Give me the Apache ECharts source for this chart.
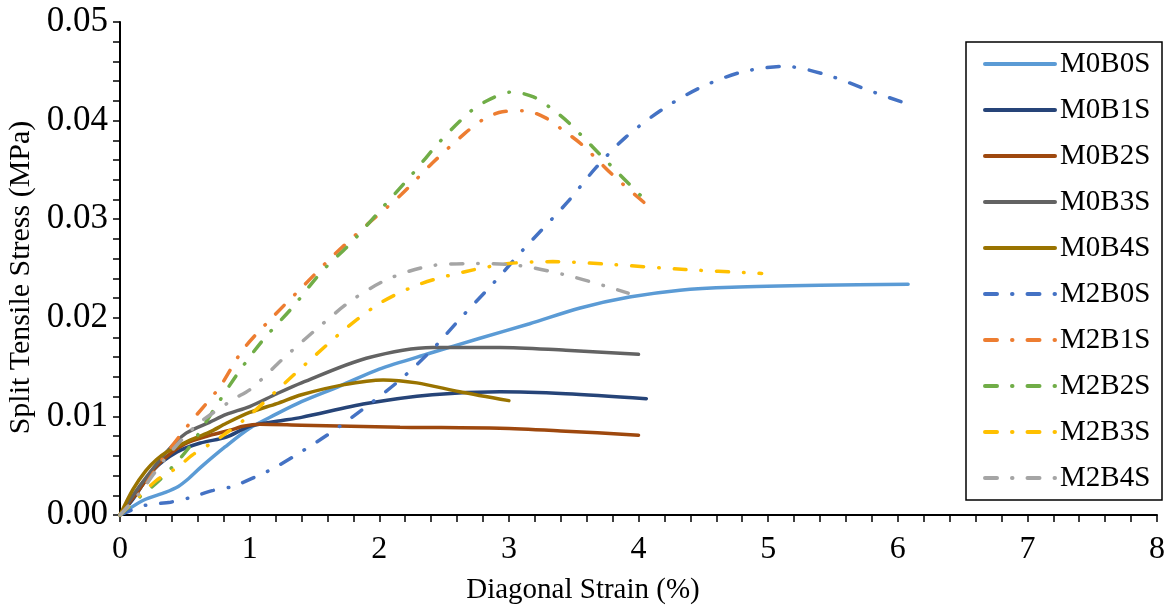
<!DOCTYPE html>
<html>
<head>
<meta charset="utf-8">
<script src="https://cdn.jsdelivr.net/npm/echarts@6/dist/echarts.min.js"></script>
<style>
  html, body { margin: 0; padding: 0; background: #fff; }
  #chart { width: 1170px; height: 613px; }
</style>
</head>
<body>
<div id="chart"></div>
<script>
// values: [diagonal strain %, split tensile stress MPa]
const seriesNames = ['M0B0S', 'M0B1S', 'M0B2S', 'M0B3S', 'M0B4S', 'M2B0S', 'M2B1S', 'M2B2S', 'M2B3S', 'M2B4S'];
const xTicks = [0, 1, 2, 3, 4, 5, 6, 7, 8];
const yTicks = [0, 0.01, 0.02, 0.03, 0.04, 0.05];

const m0b0s = [[0,0],[0.18,0.0015],[0.35,0.0023],[0.45,0.0029],[0.53,0.0037],[0.62,0.0048],[0.81,0.0069],[1.0,0.0088],[1.2,0.0102],[1.4,0.0115],[1.7,0.0131],[2.0,0.0148],[2.39,0.0164],[2.77,0.0179],[3.16,0.0194],[3.55,0.021],[3.93,0.0221],[4.32,0.0228],[4.72,0.0231],[5.4,0.0233],[6.08,0.0234]];
const m0b1s = [[0,0],[0.1,0.0016],[0.26,0.0046],[0.44,0.0064],[0.62,0.0073],[0.82,0.0079],[1.0,0.009],[1.21,0.0095],[1.4,0.0099],[1.9,0.0113],[2.41,0.0122],[2.93,0.0125],[3.44,0.0123],[4.06,0.0118]];
const m0b2s = [[0,0],[0.15,0.0026],[0.3,0.0052],[0.5,0.0072],[0.7,0.0081],[0.85,0.0086],[0.95,0.009],[1.08,0.0092],[1.4,0.0091],[2.16,0.0089],[2.93,0.0088],[3.44,0.0085],[4.0,0.0081]];
const m0b3s = [[0,0],[0.15,0.0029],[0.36,0.0064],[0.51,0.0083],[0.69,0.0094],[0.82,0.0102],[1.0,0.011],[1.21,0.0123],[1.4,0.0134],[1.9,0.0159],[2.41,0.017],[2.93,0.017],[3.44,0.0167],[4.0,0.0163]];
const m0b4s = [[0,0],[0.1,0.0026],[0.2,0.0045],[0.28,0.0056],[0.36,0.0064],[0.51,0.0074],[0.69,0.0084],[0.82,0.0093],[1.0,0.0104],[1.21,0.0113],[1.4,0.0122],[1.72,0.0132],[2.03,0.0137],[2.29,0.0134],[2.62,0.0125],[3.0,0.0116]];
const m2b0s = [[0,0],[0.2,0.001],[0.39,0.0013],[0.55,0.0018],[0.72,0.0025],[0.87,0.0029],[1.05,0.0039],[1.18,0.0047],[1.36,0.0061],[1.62,0.0083],[1.9,0.011],[2.16,0.0137],[2.41,0.0168],[2.63,0.02],[2.88,0.0235],[3.11,0.0269],[3.45,0.0317],[3.67,0.0352],[3.9,0.0383],[4.18,0.0411],[4.47,0.0433],[4.79,0.0449],[5.13,0.0455],[5.46,0.0446],[5.79,0.043],[6.05,0.0418]];
const m2b1s = [[0,0],[0.15,0.0022],[0.35,0.0061],[0.55,0.0095],[0.77,0.013],[0.95,0.0168],[1.18,0.0201],[1.42,0.0233],[1.66,0.0265],[1.91,0.0295],[2.17,0.0325],[2.41,0.0357],[2.66,0.0387],[2.8,0.0401],[2.95,0.0409],[3.12,0.041],[3.28,0.0403],[3.42,0.039],[3.56,0.0376],[3.8,0.0345],[4.06,0.0315]];
const m2b2s = [[0,0],[0.15,0.0018],[0.31,0.0036],[0.53,0.0068],[0.72,0.0106],[0.9,0.0142],[1.1,0.0177],[1.34,0.0212],[1.55,0.0246],[1.79,0.0277],[2.02,0.0311],[2.25,0.0345],[2.47,0.0379],[2.71,0.041],[2.86,0.0422],[3.02,0.0429],[3.19,0.0424],[3.33,0.0412],[3.46,0.0398],[3.7,0.0366],[3.94,0.0334],[4.04,0.0321]];
const m2b3s = [[0,0],[0.28,0.0035],[0.44,0.0048],[0.56,0.0061],[0.72,0.0074],[0.85,0.0086],[0.99,0.01],[1.24,0.013],[1.49,0.016],[1.75,0.019],[2.02,0.0216],[2.33,0.0235],[2.67,0.0247],[3.0,0.0255],[3.34,0.0257],[3.8,0.0254],[4.36,0.0249],[4.95,0.0245]];
const m2b4s = [[0,0],[0.15,0.0022],[0.36,0.0059],[0.59,0.0091],[0.87,0.0117],[1.01,0.0128],[1.27,0.016],[1.52,0.0189],[1.79,0.0218],[2.08,0.024],[2.41,0.0253],[2.75,0.0255],[3.08,0.0253],[3.42,0.0244],[3.75,0.0232],[3.92,0.0225]];

const seriesData = [m0b0s, m0b1s, m0b2s, m0b3s, m0b4s, m2b0s, m2b1s, m2b2s, m2b3s, m2b4s];
const colors = ['#5B9BD5', '#264478', '#9E480E', '#636363', '#997300', '#4472C4', '#ED7D31', '#70AD47', '#FFC000', '#A5A5A5'];
const dashDot = [12, 15, 0.5, 15];
const font = "'Liberation Serif', 'Times New Roman', serif";

const chart = echarts.init(document.getElementById('chart'));
const option = {
  animation: false,
  backgroundColor: '#fff',
  textStyle: { fontFamily: font, color: '#000' },
  grid: { left: 120, right: 13, top: 22, bottom: 98, outerBoundsMode: 'none' },
  // x axis title sits left of the plot centre in the original, so it is a title here
  title: {
    text: 'Diagonal Strain (%)',
    left: 583,
    top: 576,
    textAlign: 'center',
    padding: 0,
    textStyle: { fontSize: 29, fontFamily: font, fontWeight: 'normal', color: '#000' }
  },
  xAxis: {
    type: 'value',
    min: xTicks[0],
    max: xTicks[xTicks.length - 1],
    interval: 1,
    axisLine: { lineStyle: { color: '#000', width: 2 } },
    axisTick: { length: 7, lineStyle: { color: '#000', width: 1.5 } },
    minorTick: { show: true, splitNumber: 5, length: 7, lineStyle: { color: '#000', width: 1.5 } },
    axisLabel: { fontSize: 32, fontFamily: font, color: '#000', margin: 19 },
    splitLine: { show: false }
  },
  yAxis: {
    type: 'value',
    min: yTicks[0],
    max: yTicks[yTicks.length - 1],
    interval: 0.01,
    name: 'Split Tensile Stress (MPa)',
    nameLocation: 'middle',
    nameGap: 83,
    nameTextStyle: { fontSize: 30, fontFamily: font, color: '#000', padding: [0, 18, 0, 0] },
    axisLine: { show: true, lineStyle: { color: '#000', width: 2 } },
    axisTick: { show: true, length: 7, lineStyle: { color: '#000', width: 1.5 } },
    minorTick: { show: true, splitNumber: 5, length: 7, lineStyle: { color: '#000', width: 1.5 } },
    axisLabel: { fontSize: 35, fontFamily: font, color: '#000', margin: 12, formatter: v => v.toFixed(2) },
    splitLine: { show: false }
  },
  legend: {
    orient: 'vertical',
    left: 983,
    top: 49,
    padding: 0,
    itemWidth: 70,
    itemHeight: 14,
    itemGap: 16,
    itemTextGap: 6,
    data: seriesNames,
    itemStyle: { opacity: 0 },
    lineStyle: { width: 4, cap: 'round' },
    textStyle: { fontSize: 29, fontFamily: font, color: '#000', lineHeight: 30 }
  },
  graphic: [{
    type: 'rect',
    shape: { x: 966, y: 42, width: 196, height: 458 },
    style: { fill: 'none', stroke: '#000', lineWidth: 1.5 },
    silent: true
  }],
  series: seriesNames.map((name, i) => ({
    name: name,
    type: 'line',
    data: seriesData[i],
    smooth: 0.3,
    showSymbol: false,
    symbol: 'none',
    color: colors[i],
    lineStyle: {
      color: colors[i],
      width: 3.5,
      type: i < 5 ? 'solid' : dashDot,
      cap: 'round'
    }
  }))
};
chart.setOption(option);
</script>
</body>
</html>
